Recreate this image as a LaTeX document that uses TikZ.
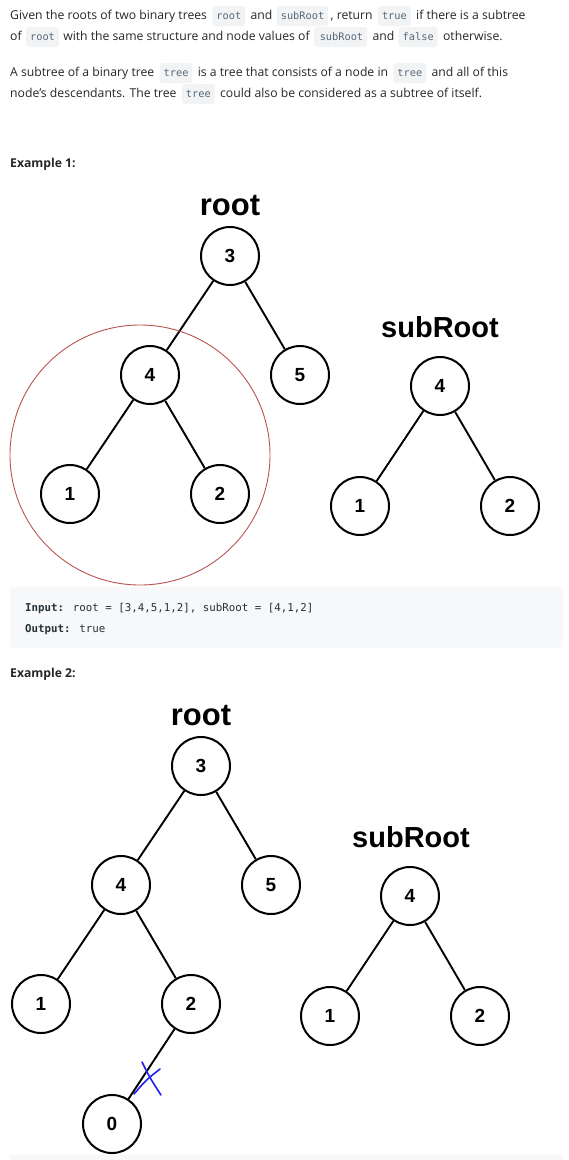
\documentclass[tikz,border=0pt]{standalone}
\usepackage{fontspec}
\setmainfont{Open Sans}
\newfontfamily\arialf{Liberation Sans}
\newfontfamily\monof{DejaVu Sans Mono}
\definecolor{bodyc}{HTML}{262626}
\definecolor{codebg}{HTML}{F2F3F4}
\definecolor{codec}{HTML}{56687A}
\definecolor{blockbg}{HTML}{F7F8FA}
\definecolor{blockc}{HTML}{263238}
\definecolor{ringc}{HTML}{B85450}
\definecolor{xblue}{HTML}{1F1FF0}
\begin{document}
\begin{tikzpicture}[x=1pt,y=-1pt,
  txt/.style={anchor=base west, inner sep=0pt, text=bodyc, font=\fontsize{12.2}{15}\selectfont},
  code/.style={anchor=base west, fill=codebg, rounded corners=3pt, inner xsep=4pt, inner ysep=4pt,
     text height=9pt, text depth=3pt, text=codec, font=\monof\fontsize{10.3}{12}\selectfont},
  ex/.style={anchor=base west, inner sep=0pt, text=bodyc, font=\bfseries\fontsize{12.2}{15}\selectfont},
  blk/.style={anchor=base west, inner sep=0pt, text=blockc, font=\monof\fontsize{10.8}{13}\selectfont},
  tn/.style={circle, draw, line width=2pt, minimum size=58pt, inner sep=0pt,
     font=\arialf\bfseries\fontsize{19}{21}\selectfont},
  ttl/.style={anchor=base, inner sep=0pt, font=\arialf\bfseries\fontsize{29}{32}\selectfont},
  ttr/.style={anchor=base, inner sep=0pt, font=\arialf\bfseries\fontsize{31}{34}\selectfont},
  ed/.style={line width=1.9pt}]
\useasboundingbox (0,0) rectangle (568,1160);
% paragraph 1
\node[txt] (l1a) at (10,19) {Given the roots of two binary trees};
\node[code] (l1b) at ([xshift=5pt]l1a.base east) {root};
\node[txt] (l1c) at ([xshift=5pt]l1b.base east) {and};
\node[code] (l1d) at ([xshift=4pt]l1c.base east) {subRoot};
\node[txt] (l1e) at ([xshift=2pt]l1d.base east) {, return};
\node[code] (l1f) at ([xshift=5pt]l1e.base east) {true};
\node[txt] (l1g) at ([xshift=5pt]l1f.base east) {if there is a subtree};
\node[txt] (l2a) at (10,40) {of};
\node[code] (l2b) at ([xshift=4pt]l2a.base east) {root};
\node[txt] (l2c) at ([xshift=4pt]l2b.base east) {with the same structure and node values of};
\node[code] (l2d) at ([xshift=4pt]l2c.base east) {\,subRoot};
\node[txt] (l2e) at ([xshift=5pt]l2d.base east) {and};
\node[code] (l2f) at ([xshift=4pt]l2e.base east) {false};
\node[txt] (l2g) at ([xshift=5pt]l2f.base east) {otherwise.};
% paragraph 2
\node[txt] (l3a) at (10,76) {A subtree of a binary tree};
\node[code] (l3b) at ([xshift=5pt]l3a.base east) {tree};
\node[txt] (l3c) at ([xshift=5pt]l3b.base east) {is a tree that consists of a node in};
\node[code] (l3d) at ([xshift=5pt]l3c.base east) {tree};
\node[txt] (l3e) at ([xshift=5pt]l3d.base east) {and all of this};
\node[txt] (l4a) at (10,97) {node's descendants. The tree};
\node[code] (l4b) at ([xshift=5pt]l4a.base east) {tree};
\node[txt] (l4c) at ([xshift=5pt]l4b.base east) {could also be considered as a subtree of itself.};
% Example 1
\node[ex] (ex1) at (10,167) {Example 1:};
\node[ttr] (r1) at (230,215) {root};
\node[tn] (a3) at (230,256) {3};
\node[tn] (a4) at (150,375) {4};
\node[tn] (a5) at (300,375) {5};
\node[tn] (a1) at (70,494) {1};
\node[tn] (a2) at (220,494) {2};
\draw[ed] (a3) -- (a4);
\draw[ed] (a3) -- (a5);
\draw[ed] (a4) -- (a1);
\draw[ed] (a4) -- (a2);
\draw[ringc, line width=0.9pt] (140,455) circle[radius=130];
\node[ttl] (s1) at (440,337) {subRoot};
\node[tn] (b4) at (440,386) {4};
\node[tn] (b1) at (360,506) {1};
\node[tn] (b2) at (510,506) {2};
\draw[ed] (b4) -- (b1);
\draw[ed] (b4) -- (b2);
% code block
\fill[blockbg, rounded corners=3pt] (10,587) rectangle (563,648);
\node[blk] (in1) at (25,611) {\textbf{Input:} root = [3,4,5,1,2], subRoot = [4,1,2]};
\node[blk] (out1) at (25,632) {\textbf{Output:} true};
% Example 2
\node[ex] (ex2) at (10,677) {Example 2:};
\node[ttr] (r2) at (201,725) {root};
\node[tn] (c3) at (201,766) {3};
\node[tn] (c4) at (121,885) {4};
\node[tn] (c5) at (271,885) {5};
\node[tn] (c1) at (41,1004) {1};
\node[tn] (c2) at (191,1004) {2};
\node[tn] (c0) at (112,1124) {0};
\draw[ed] (c3) -- (c4);
\draw[ed] (c3) -- (c5);
\draw[ed] (c4) -- (c1);
\draw[ed] (c4) -- (c2);
\draw[ed] (c2) -- (c0);
\draw[xblue, line width=1.6pt, line cap=round] (142,1062) .. controls (150,1078) .. (161,1095);
\draw[xblue, line width=1.6pt, line cap=round] (160,1069) .. controls (146,1080) .. (134,1094);
\node[ttl] (s2) at (411,847) {subRoot};
\node[tn] (d4) at (410,896) {4};
\node[tn] (d1) at (330,1016) {1};
\node[tn] (d2) at (480,1016) {2};
\draw[ed] (d4) -- (d1);
\draw[ed] (d4) -- (d2);
\fill[blockbg] (10,1155) rectangle (563,1160);
\end{tikzpicture}
\end{document}
